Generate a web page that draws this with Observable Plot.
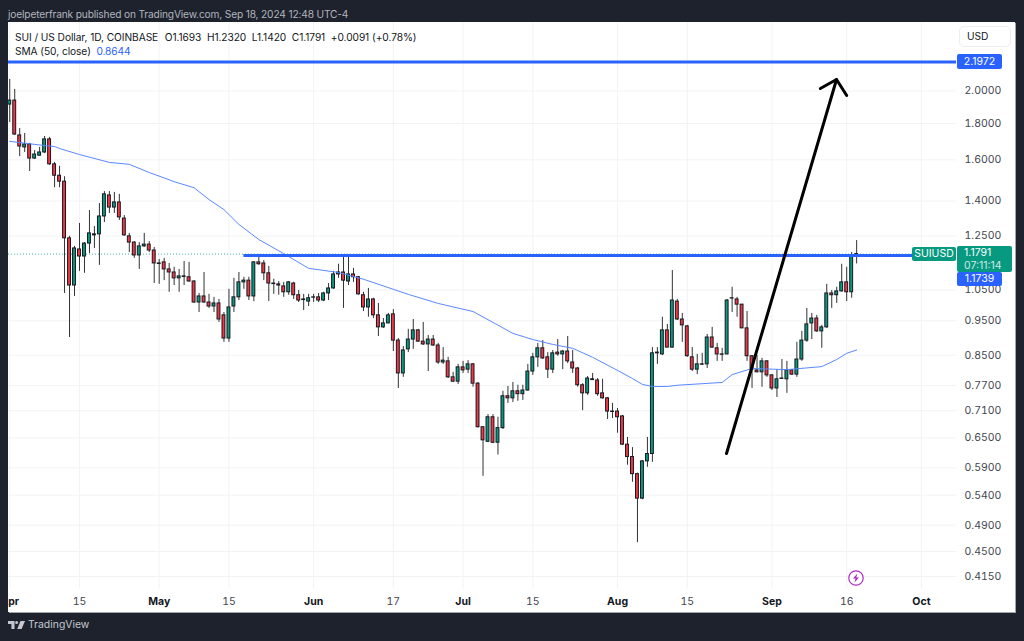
<!DOCTYPE html>
<html><head><meta charset="utf-8">
<script src="https://cdn.jsdelivr.net/npm/d3@7"></script>
<script src="https://cdn.jsdelivr.net/npm/@observablehq/plot@0.6"></script>
<style>
html,body{margin:0;padding:0;width:1024px;height:641px;overflow:hidden;background:#1e222d;font-family:Inter,"Noto Sans",sans-serif;}
.a{position:absolute;white-space:pre;line-height:1;}
#panel{left:8px;top:22px;width:1007px;height:590px;background:#fff;box-shadow:1px 1px 0 #a3a6af;}
#chart{left:8px;top:22px;width:1007px;height:590px;}
.tag{color:#fff;font-size:10.5px;border-radius:2px;text-align:center;}
</style></head><body>
<div class="a" style="left:8px;top:9px;color:#b2b5be;font-size:10.2px;letter-spacing:-.16px">joelpeterfrank published on TradingView.com, Sep 18, 2024 12:48 UTC-4</div>
<div class="a" id="panel"></div>
<div class="a" id="chart"></div>
<div class="a" style="left:15px;top:32px;color:#131722;font-size:10.2px;letter-spacing:-.07px">SUI / US Dollar, 1D, COINBASE  <span style="margin-left:1px">O1.1693  H1.2320  L1.1420  C1.1791  +0.0091 (+0.78%)</span></div>
<div class="a" style="left:15px;top:46px;color:#131722;font-size:10.2px;letter-spacing:-.07px">SMA (50, close)  <span style="color:#2962ff">0.8644</span></div>
<div class="a" style="left:959px;top:26px;width:52px;height:21px;border:1px solid #eceef2;border-radius:5px;box-sizing:border-box"></div>
<div class="a" style="left:967px;top:31px;color:#131722;font-size:10.2px">USD</div>
<div class="a tag" style="left:957px;top:54px;width:45px;height:15px;line-height:15px;background:#2962ff">2.1972</div>
<div class="a tag" style="left:912px;top:247px;width:44px;height:14px;line-height:14px;background:#089981">SUIUSD</div>
<div class="a tag" style="left:957px;top:246px;width:55px;height:26px;background:#089981;text-align:left;padding-left:7px;box-sizing:border-box;line-height:13px">1.1791<br><span style="color:#cfe9e3">07:11:14</span></div>
<div class="a tag" style="left:957px;top:272px;width:45px;height:14px;line-height:14px;background:#2962ff">1.1739</div>
<svg class="a" style="left:848px;top:570px" width="16" height="16" viewBox="0 0 16 16"><circle cx="8" cy="8" r="7.2" fill="#fff" stroke="#ab2cc4" stroke-width="1.2"/><path d="M9.4 3.4 5 8.6h2.6L6.5 12.6 11 7.4H8.3z" fill="#ab2cc4"/></svg>
<svg class="a" style="left:8px;top:621px" width="17" height="9" viewBox="0 0 17 9"><path d="M0 0h6.5v8H3.4V3H0zM12.5 0H17l-3.4 8H9.2z" fill="#c4c7cf"/><circle cx="8.6" cy="1.6" r="1.5" fill="#c4c7cf"/></svg>
<div class="a" style="left:28px;top:620px;color:#c4c7cf;font-size:10.4px">TradingView</div>
<script>
const startDate = "2024-04-01";
const opens = [
1.914,1.939,1.732,1.666,1.682,1.607,1.622,1.639,1.710,1.577,1.520,1.491,1.241,1.065,1.197,1.170,1.220,1.257,1.257,1.332,1.426,1.371,1.394,1.323,1.249,1.224,1.174,1.209,1.216,1.193,
1.144,1.148,1.122,1.111,1.090,1.097,1.094,1.079,1.008,1.028,1.008,.995,1.005,.967,.897,.995,1.025,1.076,1.082,1.028,1.148,1.144,1.108,1.072,1.069,1.062,1.042,1.072,1.032,1.018,1.011,
1.024,1.025,1.0145,1.038,1.055,1.104,1.111,1.079,1.104,1.094,1.032,.992,1.018,.967,.930,.942,.970,.891,.801,.866,.894,.921,.888,.880,.894,.877,.830,.833,.791,.780,
.817,.811,.825,.775,.673,.642,.695,.640,.671,.744,.739,.756,.749,.758,.806,.844,.869,.844,.811,.857,.852,.860,.830,.814,.771,.751,.786,.783,.751,.739,.708,
.708,.697,.636,.611,.578,.534,.6025,.617,.855,.852,.921,.871,1.011,.954,.933,.844,.811,.825,.825,.900,.869,.852,.852,1.021,1.018,1.001,.927,.847,.809,.804,.833,
.796,.763,.787,.786,.809,.798,.838,.891,.942,.957,.918,.930,1.038,1.032,1.045,1.076,1.042,1.1693];
const highs = [
2.076,2.010,1.771,1.743,1.688,1.649,1.666,1.726,1.721,1.587,1.567,1.515,1.249,1.209,1.302,1.224,1.358,1.289,1.389,1.444,1.444,1.440,1.431,1.336,1.261,1.228,1.224,1.261,1.228,1.205,
1.159,1.163,1.144,1.130,1.122,1.151,1.148,1.082,1.038,1.111,1.035,1.025,1.018,.976,1.052,1.090,1.111,1.094,1.094,1.151,1.178,1.155,1.133,1.087,1.079,1.076,1.079,1.076,1.048,1.035,1.035,
1.035,1.038,1.042,1.072,1.115,1.141,1.170,1.170,1.126,1.097,1.042,1.055,1.022,1.005,.957,.973,.985,.897,.874,.924,.954,.924,.945,.906,.906,.883,.871,.844,.804,.825,
.833,.835,.827,.778,.673,.701,.701,.695,.756,.768,.778,.771,.771,.825,.855,.883,.891,.857,.863,.894,.863,.903,.863,.817,.775,.793,.801,.788,.786,.741,.727,
.715,.699,.651,.630,.580,.604,.651,.871,.871,.961,.939,1.118,1.018,.973,.936,.871,.852,.855,.909,.930,.883,.869,1.018,1.059,1.025,1.002,.979,.849,.849,.841,.835,
.798,.811,.838,.833,.811,.886,.918,.989,.973,.967,.936,1.069,1.048,1.059,1.141,1.130,1.185,1.232];
const lows = [
1.806,1.732,1.617,1.639,1.541,1.602,1.620,1.633,1.572,1.462,1.462,1.038,.900,1.028,1.115,1.108,1.181,1.201,1.137,1.306,1.345,1.345,1.315,1.249,1.185,1.163,1.122,1.205,1.185,1.072,
1.069,1.082,1.042,1.065,1.042,1.065,1.076,1.005,.976,1.005,.989,.976,.945,.886,.886,.976,1.0145,1.052,1.0145,1.011,1.137,1.082,1.011,1.035,1.032,1.025,1.032,1.018,1.008,.982,.995,
1.008,1.008,1.011,1.0145,1.052,1.090,.989,1.065,1.076,1.032,.979,.961,.957,.903,.927,.941,.860,.763,.791,.857,.866,.886,.877,.806,.874,.825,.825,.788,.778,.773,
.801,.801,.766,.671,.574,.640,.638,.615,.668,.727,.729,.732,.734,.756,.796,.817,.838,.788,.801,.847,.811,.827,.801,.766,.710,.746,.783,.744,.737,.690,.692,
.660,.634,.595,.563,.463,.532,.591,.6005,.825,.849,.870,.870,.951,.886,.844,.806,.798,.822,.814,.869,.833,.833,.851,.976,.961,.926,.833,.763,.803,.766,.791,
.758,.741,.786,.751,.796,.791,.833,.886,.894,.915,.869,.927,.989,1.005,1.042,1.011,1.022,1.142];
const closes = [
1.939,1.737,1.671,1.682,1.607,1.628,1.639,1.710,1.577,1.520,1.491,1.241,1.065,1.201,1.170,1.220,1.261,1.253,1.332,1.431,1.371,1.394,1.328,1.253,1.224,1.174,1.209,1.216,1.193,1.144,
1.142,1.122,1.111,1.090,1.097,1.095,1.079,1.008,1.028,1.008,.995,1.005,.954,.897,.992,1.025,1.076,1.082,1.028,1.148,1.141,1.108,1.072,1.070,1.065,1.042,1.076,1.032,1.0145,1.016,1.022,
1.025,1.0145,1.038,1.055,1.104,1.111,1.082,1.104,1.094,1.035,.992,1.018,.967,.930,.942,.967,.891,.801,.863,.894,.921,.888,.880,.894,.877,.830,.835,.791,.780,.817,
.809,.825,.775,.673,.645,.695,.640,.671,.744,.739,.756,.749,.758,.806,.844,.869,.841,.811,.855,.852,.860,.833,.814,.771,.751,.788,.784,.749,.739,.708,.707,
.695,.636,.611,.578,.534,.6025,.617,.855,.857,.921,.871,1.0145,.954,.936,.847,.811,.825,.824,.900,.871,.852,.851,1.0145,1.022,1.001,.927,.847,.811,.804,.833,.796,
.763,.786,.788,.809,.798,.838,.891,.939,.957,.918,.930,1.038,1.032,1.045,1.076,1.042,1.170,1.1791];

const smaDates = ["2024-04-01","2024-04-04","2024-04-08","2024-04-10","2024-04-11","2024-04-15","2024-04-21","2024-04-25","2024-04-29","2024-05-04","2024-05-08","2024-05-11","2024-05-14","2024-05-17","2024-05-21","2024-05-26","2024-05-31","2024-06-06","2024-06-11","2024-06-17","2024-06-20","2024-06-26","2024-07-03","2024-07-07","2024-07-11","2024-07-15","2024-07-19","2024-07-23","2024-07-27","2024-08-01","2024-08-04","2024-08-06","2024-08-08","2024-08-11","2024-08-13","2024-08-22","2024-08-24","2024-08-26","2024-08-28","2024-09-04","2024-09-11","2024-09-14","2024-09-16","2024-09-18"];
const smaValues = [1.699,1.689,1.676,1.671,1.660,1.628,1.587,1.577,1.536,1.491,1.462,1.407,1.362,1.298,1.236,1.181,1.126,1.111,1.087,1.052,1.035,1.005,.979,.945,.912,.894,.880,.869,.844,.809,.788,.773,.768,.768,.771,.778,.798,.806,.814,.811,.819,.838,.855,.8644];

const priceTicks = [2,1.8,1.6,1.4,1.25,1.05,.95,.85,.77,.71,.65,.59,.54,.49,.45,.415];
const majorTicks = ["2024-04-01","2024-05-01","2024-06-01","2024-07-01","2024-08-01","2024-09-01","2024-10-01"];
const majorLabels = ["Apr","May","Jun","Jul","Aug","Sep","Oct"];
const minorTicks = ["2024-04-15","2024-05-15","2024-06-17","2024-07-15","2024-08-15","2024-09-16"];
const minorLabels = ["15","15","17","15","15","16"];

const targetLevel = 2.1972, supportLevel = 1.1739, lastClose = 1.1791;
const supportStart = "2024-05-18", levelEnd = "2024-10-08";
const arrowShaft = [["2024-08-22T21:00Z",.618],["2024-09-13T23:00Z",2.076]];
const arrowHead = [["2024-09-10T17:00Z",2.016],["2024-09-13T23:00Z",2.076],["2024-09-16T00:00Z",1.971]];

const upColor = "#089981", downColor = "#f23645", blue = "#2962ff", grid = "#f2f3f5", ink = "#131722";
const D = s => new Date(s);
const start = D(startDate);
const rows = opens.map((o,i)=>({date:d3.utcDay.offset(start,i),open:o,high:highs[i],low:lows[i],close:closes[i]}));
const sma = smaDates.map((d,i)=>({date:D(d),value:smaValues[i]}));
const majors = majorTicks.map(D), minors = minorTicks.map(D);
const labelOf = (ds,ls)=>d=>ls[ds.findIndex(x=>+x===+d)];
const pts = a=>a.map(([d,v])=>({date:D(d),value:v}));

const chart = Plot.plot({
  width:1007, height:590,
  marginLeft:0, marginRight:59, marginTop:0, marginBottom:24,
  style:{background:"transparent",fontFamily:"Inter, sans-serif",overflow:"hidden"},
  x:{type:"utc",domain:[D("2024-03-31T18:00Z"),D("2024-10-08T01:00Z")],axis:null},
  y:{type:"log",domain:[.3991,2.497],axis:null},
  marks:[
    Plot.ruleY(priceTicks,{stroke:grid,strokeWidth:1}),
    Plot.ruleX([...majors,...minors],{stroke:grid,strokeWidth:1}),
    Plot.ruleY([lastClose],{stroke:upColor,strokeWidth:1,strokeDasharray:"1,2",strokeOpacity:.75}),
    Plot.ruleX(rows,{x:"date",y1:"low",y2:"high",stroke:"#333",strokeWidth:1,clip:"frame"}),
    Plot.rect(rows,{x1:d=>d3.utcHour.offset(d.date,-7),x2:d=>d3.utcHour.offset(d.date,7),y1:"open",y2:"close",fill:d=>d.close>=d.open?upColor:downColor,stroke:"#16181f",strokeWidth:1,clip:"frame"}),
    Plot.lineY(sma,{x:"date",y:"value",stroke:"#5a88ff",strokeWidth:1,curve:"linear"}),
    Plot.ruleY([targetLevel],{stroke:blue,strokeWidth:3}),
    Plot.ruleY([supportLevel],{x1:D(supportStart),x2:D(levelEnd),stroke:blue,strokeWidth:3}),
    Plot.line(pts(arrowShaft),{x:"date",y:"value",stroke:"#000",strokeWidth:3}),
    Plot.line(pts(arrowHead),{x:"date",y:"value",stroke:"#000",strokeWidth:3,strokeLinejoin:"miter"}),
    Plot.axisY(priceTicks,{anchor:"right",tickSize:0,tickPadding:8,tickFormat:d=>d.toFixed(4),fontSize:10.5,fill:"#434651",textAnchor:"start"}),
    Plot.axisX(minors,{anchor:"bottom",tickSize:0,tickPadding:9,tickFormat:labelOf(minors,minorLabels),fontSize:10.5,fill:"#434651"}),
    Plot.axisX(majors,{anchor:"bottom",tickSize:0,tickPadding:9,tickFormat:labelOf(majors,majorLabels),fontSize:10.5,fontWeight:"bold",fill:ink})
  ]
});
document.getElementById("chart").appendChild(chart);
</script>
</body></html>
